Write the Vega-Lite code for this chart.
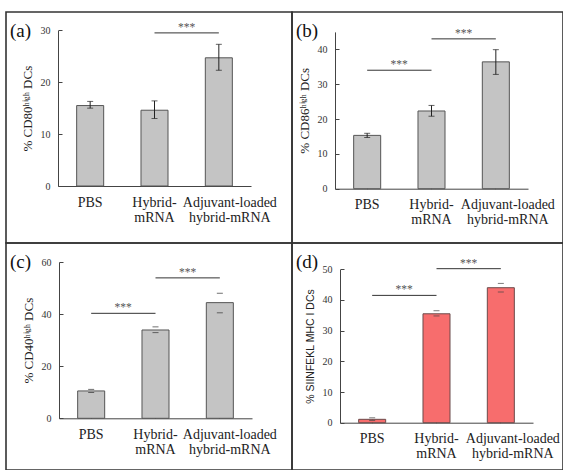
{
  "$schema": "https://vega.github.io/schema/vega-lite/v6.json",
  "background": "white",
  "padding": {"left": 5, "top": 11, "right": 0, "bottom": 0},
  "columns": 2,
  "spacing": 0,
  "bounds": "flush",
  "config": {
    "view": {"stroke": "#333333", "strokeWidth": 1.6},
    "font": "Liberation Serif",
    "axis": {"grid": false, "domainColor": "#444444", "tickColor": "#444444", "labelColor": "#333333", "titleColor": "#222222", "labelFont": "Liberation Serif", "titleFont": "Liberation Serif", "titleFontWeight": "normal"},
    "text": {"font": "Liberation Serif"},
    "title": {"font": "Liberation Serif", "fontSize": 19, "fontWeight": "normal", "color": "#111111", "anchor": "start", "frame": "group", "baseline": "top", "offset": -29, "dx": 4}
  },
  "datasets": {
    "a": [
      {"group": "PBS", "value": 15.5, "lo": 15.0, "hi": 16.3},
      {"group": "Hybrid-mRNA", "value": 14.6, "lo": 13.0, "hi": 16.4},
      {"group": "Adjuvant-loaded hybrid-mRNA", "value": 24.7, "lo": 22.3, "hi": 27.3}
    ],
    "b": [
      {"group": "PBS", "value": 15.3, "lo": 14.7, "hi": 15.9},
      {"group": "Hybrid-mRNA", "value": 22.3, "lo": 20.8, "hi": 23.9},
      {"group": "Adjuvant-loaded hybrid-mRNA", "value": 36.4, "lo": 32.8, "hi": 39.9}
    ],
    "c": [
      {"group": "PBS", "value": 10.5, "lo": 9.9, "hi": 11.1},
      {"group": "Hybrid-mRNA", "value": 33.9, "lo": 32.9, "hi": 35.1},
      {"group": "Adjuvant-loaded hybrid-mRNA", "value": 44.4, "lo": 40.5, "hi": 48.0}
    ],
    "d": [
      {"group": "PBS", "value": 1.1, "lo": 0.7, "hi": 1.6},
      {"group": "Hybrid-mRNA", "value": 35.5, "lo": 34.8, "hi": 36.5},
      {"group": "Adjuvant-loaded hybrid-mRNA", "value": 44.0, "lo": 42.6, "hi": 45.4}
    ],
    "sig_a": [
      {"from": "Hybrid-mRNA", "to": "Adjuvant-loaded hybrid-mRNA", "y": 29.5, "label": "***"}
    ],
    "sig_b": [
      {"from": "PBS", "to": "Hybrid-mRNA", "y": 34.0, "label": "***"},
      {"from": "Hybrid-mRNA", "to": "Adjuvant-loaded hybrid-mRNA", "y": 43.0, "label": "***"}
    ],
    "sig_c": [
      {"from": "PBS", "to": "Hybrid-mRNA", "y": 40.3, "label": "***"},
      {"from": "Hybrid-mRNA", "to": "Adjuvant-loaded hybrid-mRNA", "y": 53.9, "label": "***"}
    ],
    "sig_d": [
      {"from": "PBS", "to": "Hybrid-mRNA", "y": 41.5, "label": "***"},
      {"from": "Hybrid-mRNA", "to": "Adjuvant-loaded hybrid-mRNA", "y": 50.2, "label": "***"}
    ]
  },
  "concat": [
    {
      "width": 286, "height": 231,
      "title": {"text": "(a)"},
      "layer": [
        {
          "data": {"name": "a"},
          "mark": {"type": "bar", "fill": "#c4c4c4", "stroke": "#555555", "strokeWidth": 1},
          "encoding": {
            "x": {"field": "group", "type": "nominal", "sort": null,
              "scale": {"domain": ["PBS", "Hybrid-mRNA", "Adjuvant-loaded hybrid-mRNA"], "range": [52, 245], "paddingInner": 0.58, "paddingOuter": 0.29},
              "axis": {"title": null, "orient": "bottom", "offset": -57, "tickSize": -4, "labelPadding": 13, "labelFont": "Liberation Serif", "labelFontSize": 14, "labelLineHeight": 15, "labelAngle": 0, "labelColor": "#222222",
                "labelExpr": "datum.value == 'Hybrid-mRNA' ? ['Hybrid-', 'mRNA'] : datum.value == 'Adjuvant-loaded hybrid-mRNA' ? ['Adjuvant-loaded', 'hybrid-mRNA'] : datum.label",
                "labelOffset": {"condition": {"test": "datum.value == 'Adjuvant-loaded hybrid-mRNA'", "value": 11}, "value": 0}}},
            "y": {"field": "value", "type": "quantitative",
              "scale": {"domain": [0, 30], "range": [174, 18.3], "nice": false},
              "axis": {"title": "% CD80ʰⁱᵍʰ DCs", "titleFontSize": 13, "titlePadding": 6, "offset": -52,
                "values": [0, 2.5, 5, 7.5, 10, 12.5, 15, 17.5, 20, 22.5, 25, 27.5, 30],
                "labelExpr": "datum.value % 5 == 0 ? format(datum.value, 'd') : ''",
                "tickSize": {"condition": {"test": "datum.value % 5 == 0", "value": -4}, "value": -2},
                "labelPadding": 12, "labelFont": "Liberation Serif", "labelFontSize": 10}}
          }
        },
        {
          "data": {"name": "a"},
          "mark": {"type": "rule", "color": "#222222", "strokeWidth": 1},
          "encoding": {"x": {"field": "group", "type": "nominal", "sort": null}, "y": {"field": "lo", "type": "quantitative"}, "y2": {"field": "hi"}}
        },
        {
          "data": {"name": "a"},
          "mark": {"type": "tick", "orient": "horizontal", "color": "#222222", "size": 6, "thickness": 1},
          "encoding": {"x": {"field": "group", "type": "nominal", "sort": null}, "y": {"field": "lo", "type": "quantitative"}}
        },
        {
          "data": {"name": "a"},
          "mark": {"type": "tick", "orient": "horizontal", "color": "#222222", "size": 6, "thickness": 1},
          "encoding": {"x": {"field": "group", "type": "nominal", "sort": null}, "y": {"field": "hi", "type": "quantitative"}}
        },
        {
          "data": {"name": "sig_a"},
          "mark": {"type": "rule", "color": "#333333", "strokeWidth": 1},
          "encoding": {"x": {"field": "from", "type": "nominal"}, "x2": {"field": "to"}, "y": {"field": "y", "type": "quantitative"}}
        },
        {
          "data": {"name": "sig_a"},
          "mark": {"type": "text", "font": "Liberation Serif", "fontSize": 11.5, "color": "#555555", "dx": 32, "dy": -2, "baseline": "alphabetic", "align": "center"},
          "encoding": {"x": {"field": "from", "type": "nominal"}, "y": {"field": "y", "type": "quantitative"}, "text": {"field": "label"}}
        }
      ]
    },
    {
      "width": 271, "height": 231,
      "title": {"text": "(b)"},
      "layer": [
        {
          "data": {"name": "b"},
          "mark": {"type": "bar", "fill": "#c4c4c4", "stroke": "#555555", "strokeWidth": 1},
          "encoding": {
            "x": {"field": "group", "type": "nominal", "sort": null,
              "scale": {"domain": ["PBS", "Hybrid-mRNA", "Adjuvant-loaded hybrid-mRNA"], "range": [43, 236], "paddingInner": 0.58, "paddingOuter": 0.29},
              "axis": {"title": null, "orient": "bottom", "offset": -54.3, "tickSize": -4, "labelPadding": 13, "labelFont": "Liberation Serif", "labelFontSize": 14, "labelLineHeight": 15, "labelAngle": 0, "labelColor": "#222222",
                "labelExpr": "datum.value == 'Hybrid-mRNA' ? ['Hybrid-', 'mRNA'] : datum.value == 'Adjuvant-loaded hybrid-mRNA' ? ['Adjuvant-loaded', 'hybrid-mRNA'] : datum.label",
                "labelOffset": {"condition": {"test": "datum.value == 'Adjuvant-loaded hybrid-mRNA'", "value": 12}, "value": 0}}},
            "y": {"field": "value", "type": "quantitative",
              "scale": {"domain": [0, 45], "range": [176.7, 19.9], "nice": false},
              "axis": {"title": "% CD86ʰⁱᵍʰ DCs", "titleFontSize": 13, "titlePadding": 6, "offset": -43,
                "values": [0, 5, 10, 15, 20, 25, 30, 35, 40, 45],
                "labelExpr": "datum.value % 10 == 0 ? format(datum.value, 'd') : ''",
                "tickSize": {"condition": {"test": "datum.value % 10 == 0", "value": -4}, "value": -2},
                "labelPadding": 12, "labelFont": "Liberation Serif", "labelFontSize": 10}}
          }
        },
        {
          "data": {"name": "b"},
          "mark": {"type": "rule", "color": "#222222", "strokeWidth": 1},
          "encoding": {"x": {"field": "group", "type": "nominal", "sort": null}, "y": {"field": "lo", "type": "quantitative"}, "y2": {"field": "hi"}}
        },
        {
          "data": {"name": "b"},
          "mark": {"type": "tick", "orient": "horizontal", "color": "#222222", "size": 6, "thickness": 1},
          "encoding": {"x": {"field": "group", "type": "nominal", "sort": null}, "y": {"field": "lo", "type": "quantitative"}}
        },
        {
          "data": {"name": "b"},
          "mark": {"type": "tick", "orient": "horizontal", "color": "#222222", "size": 6, "thickness": 1},
          "encoding": {"x": {"field": "group", "type": "nominal", "sort": null}, "y": {"field": "hi", "type": "quantitative"}}
        },
        {
          "data": {"name": "sig_b"},
          "mark": {"type": "rule", "color": "#333333", "strokeWidth": 1},
          "encoding": {"x": {"field": "from", "type": "nominal"}, "x2": {"field": "to"}, "y": {"field": "y", "type": "quantitative"}}
        },
        {
          "data": {"name": "sig_b"},
          "mark": {"type": "text", "font": "Liberation Serif", "fontSize": 11.5, "color": "#555555", "dx": 32, "dy": -2, "baseline": "alphabetic", "align": "center"},
          "encoding": {"x": {"field": "from", "type": "nominal"}, "y": {"field": "y", "type": "quantitative"}, "text": {"field": "label"}}
        }
      ]
    },
    {
      "width": 286, "height": 227,
      "title": {"text": "(c)"},
      "layer": [
        {
          "data": {"name": "c"},
          "mark": {"type": "bar", "fill": "#c4c4c4", "stroke": "#555555", "strokeWidth": 1},
          "encoding": {
            "x": {"field": "group", "type": "nominal", "sort": null,
              "scale": {"domain": ["PBS", "Hybrid-mRNA", "Adjuvant-loaded hybrid-mRNA"], "range": [53, 246], "paddingInner": 0.58, "paddingOuter": 0.29},
              "axis": {"title": null, "orient": "bottom", "offset": -51.7, "tickSize": -4, "labelPadding": 13, "labelFont": "Liberation Serif", "labelFontSize": 14, "labelLineHeight": 15, "labelAngle": 0, "labelColor": "#222222",
                "labelExpr": "datum.value == 'Hybrid-mRNA' ? ['Hybrid-', 'mRNA'] : datum.value == 'Adjuvant-loaded hybrid-mRNA' ? ['Adjuvant-loaded', 'hybrid-mRNA'] : datum.label",
                "labelOffset": {"condition": {"test": "datum.value == 'Adjuvant-loaded hybrid-mRNA'", "value": 10}, "value": 0}}},
            "y": {"field": "value", "type": "quantitative",
              "scale": {"domain": [0, 60], "range": [175.3, 19], "nice": false},
              "axis": {"title": "% CD40ʰⁱᵍʰ  DCs", "titleFontSize": 13, "titlePadding": 6, "offset": -53,
                "values": [0, 5, 10, 15, 20, 25, 30, 35, 40, 45, 50, 55, 60],
                "labelExpr": "datum.value % 10 == 0 ? format(datum.value, 'd') : ''",
                "tickSize": {"condition": {"test": "datum.value % 10 == 0", "value": -4}, "value": -2},
                "labelPadding": 12, "labelFont": "Liberation Serif", "labelFontSize": 10}}
          }
        },
        {
          "data": {"name": "c"},
          "mark": {"type": "tick", "orient": "horizontal", "color": "#333333", "size": 6, "thickness": 1},
          "encoding": {"x": {"field": "group", "type": "nominal", "sort": null}, "y": {"field": "lo", "type": "quantitative"}}
        },
        {
          "data": {"name": "c"},
          "mark": {"type": "tick", "orient": "horizontal", "color": "#333333", "size": 6, "thickness": 1},
          "encoding": {"x": {"field": "group", "type": "nominal", "sort": null}, "y": {"field": "hi", "type": "quantitative"}}
        },
        {
          "data": {"name": "sig_c"},
          "mark": {"type": "rule", "color": "#333333", "strokeWidth": 1},
          "encoding": {"x": {"field": "from", "type": "nominal"}, "x2": {"field": "to"}, "y": {"field": "y", "type": "quantitative"}}
        },
        {
          "data": {"name": "sig_c"},
          "mark": {"type": "text", "font": "Liberation Serif", "fontSize": 11.5, "color": "#555555", "dx": 32, "dy": -2, "baseline": "alphabetic", "align": "center"},
          "encoding": {"x": {"field": "from", "type": "nominal"}, "y": {"field": "y", "type": "quantitative"}, "text": {"field": "label"}}
        }
      ]
    },
    {
      "width": 271, "height": 227,
      "title": {"text": "(d)"},
      "layer": [
        {
          "data": {"name": "d"},
          "mark": {"type": "bar", "fill": "#f76d6d", "stroke": "#6b4a4a", "strokeWidth": 1},
          "encoding": {
            "x": {"field": "group", "type": "nominal", "sort": null,
              "scale": {"domain": ["PBS", "Hybrid-mRNA", "Adjuvant-loaded hybrid-mRNA"], "range": [48, 241], "paddingInner": 0.58, "paddingOuter": 0.29},
              "axis": {"title": null, "orient": "bottom", "offset": -47.3, "tickSize": -4, "labelPadding": 13, "labelFont": "Liberation Serif", "labelFontSize": 14, "labelLineHeight": 15, "labelAngle": 0, "labelColor": "#222222",
                "labelExpr": "datum.value == 'Hybrid-mRNA' ? ['Hybrid-', 'mRNA'] : datum.value == 'Adjuvant-loaded hybrid-mRNA' ? ['Adjuvant-loaded', 'hybrid-mRNA'] : datum.label",
                "labelOffset": {"condition": {"test": "datum.value == 'Adjuvant-loaded hybrid-mRNA'", "value": 12}, "value": 0}}},
            "y": {"field": "value", "type": "quantitative",
              "scale": {"domain": [0, 50], "range": [179.7, 26.3], "nice": false},
              "axis": {"title": "% SIINFEKL MHC I DCs", "titleFont": "Liberation Sans", "titleFontSize": 10.5, "titlePadding": 7, "offset": -48,
                "values": [0, 5, 10, 15, 20, 25, 30, 35, 40, 45, 50],
                "labelExpr": "datum.value % 10 == 0 ? format(datum.value, 'd') : ''",
                "tickSize": {"condition": {"test": "datum.value % 10 == 0", "value": -4}, "value": -2},
                "labelPadding": 12, "labelFont": "Liberation Serif", "labelFontSize": 10}}
          }
        },
        {
          "data": {"name": "d"},
          "mark": {"type": "tick", "orient": "horizontal", "color": "#444444", "size": 6, "thickness": 1},
          "encoding": {"x": {"field": "group", "type": "nominal", "sort": null}, "y": {"field": "lo", "type": "quantitative"}}
        },
        {
          "data": {"name": "d"},
          "mark": {"type": "tick", "orient": "horizontal", "color": "#444444", "size": 6, "thickness": 1},
          "encoding": {"x": {"field": "group", "type": "nominal", "sort": null}, "y": {"field": "hi", "type": "quantitative"}}
        },
        {
          "data": {"name": "sig_d"},
          "mark": {"type": "rule", "color": "#333333", "strokeWidth": 1},
          "encoding": {"x": {"field": "from", "type": "nominal"}, "x2": {"field": "to"}, "y": {"field": "y", "type": "quantitative"}}
        },
        {
          "data": {"name": "sig_d"},
          "mark": {"type": "text", "font": "Liberation Serif", "fontSize": 11.5, "color": "#555555", "dx": 32, "dy": -2, "baseline": "alphabetic", "align": "center"},
          "encoding": {"x": {"field": "from", "type": "nominal"}, "y": {"field": "y", "type": "quantitative"}, "text": {"field": "label"}}
        }
      ]
    }
  ]
}
